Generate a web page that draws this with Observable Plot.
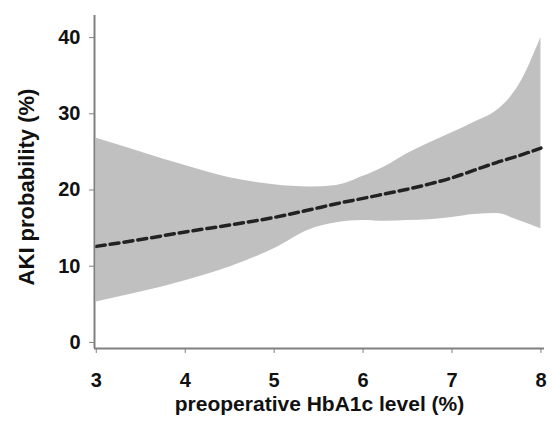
<!DOCTYPE html>
<html>
<head>
<meta charset="utf-8">
<script src="https://cdn.jsdelivr.net/npm/d3@7"></script>
<script src="https://cdn.jsdelivr.net/npm/@observablehq/plot@0.6"></script>
<style>
  html, body { margin: 0; padding: 0; background: #fff; }
  svg { display: block; }
</style>
</head>
<body>
<div id="chart"></div>
<script>
const hba1c = [3, 3.5, 4, 4.5, 5, 5.4, 5.7, 6, 6.25, 6.5, 6.75, 7, 7.25, 7.5, 7.75, 8];
const upper = [26.8, 25.0, 23.2, 21.6, 20.7, 20.4, 20.6, 21.8, 23.1, 24.8, 26.2, 27.5, 28.9, 30.4, 33.7, 40.0];
const lower = [5.3, 6.6, 8.1, 9.9, 12.3, 14.8, 15.7, 16.0, 15.9, 16.0, 16.1, 16.4, 16.8, 16.9, 16.0, 14.9];
const mean  = [12.6, 13.5, 14.5, 15.4, 16.4, 17.4, 18.2, 18.9, 19.5, 20.1, 20.8, 21.6, 22.6, 23.6, 24.5, 25.5];
const xTicks = [3, 4, 5, 6, 7, 8];
const yTicks = [0, 10, 20, 30, 40];
const xLabel = "preoperative HbA1c level (%)";
const yLabel = "AKI probability (%)";

const data = hba1c.map((x, i) => ({x, upper: upper[i], lower: lower[i], mean: mean[i]}));
const font = "Liberation Sans, Arial, Helvetica, sans-serif";

const chart = Plot.plot({
  width: 553,
  height: 427,
  marginLeft: 94,
  marginRight: 9,
  marginTop: 15,
  marginBottom: 79,
  style: {fontFamily: font, background: "#fff"},
  x: {domain: [2.98, 8.04]},
  y: {domain: [-0.8, 42.9]},
  marks: [
    Plot.areaY(data, {x: "x", y1: "lower", y2: "upper", fill: "#c0c0c0", curve: "monotone-x"}),
    Plot.lineY(data, {x: "x", y: "mean", stroke: "#222", strokeWidth: 3.5, strokeDasharray: "9,5", curve: "monotone-x"}),
    Plot.ruleX([2.98], {stroke: "#808080", strokeWidth: 2}),
    Plot.ruleY([-0.8], {stroke: "#808080", strokeWidth: 2}),
    Plot.axisY({ticks: yTicks, tickFormat: d => String(d), tickSize: 5, tickPadding: 9, stroke: "#808080", fontSize: 20, fontWeight: "bold", fill: "#111", label: null}),
    Plot.axisX({ticks: xTicks, tickFormat: d => String(d), tickSize: 5, tickPadding: 19, stroke: "#808080", fontSize: 20, fontWeight: "bold", fill: "#111", label: null}),
    Plot.text([xLabel], {frameAnchor: "bottom", textAnchor: "middle", dy: 62, fontSize: 21, fontWeight: "bold", fill: "#111", text: d => d}),
    Plot.text([yLabel], {frameAnchor: "left", textAnchor: "middle", dx: -68, dy: 5, rotate: -90, fontSize: 22, fontWeight: "bold", fill: "#111", text: d => d})
  ]
});
document.getElementById("chart").appendChild(chart);
</script>
</body>
</html>
